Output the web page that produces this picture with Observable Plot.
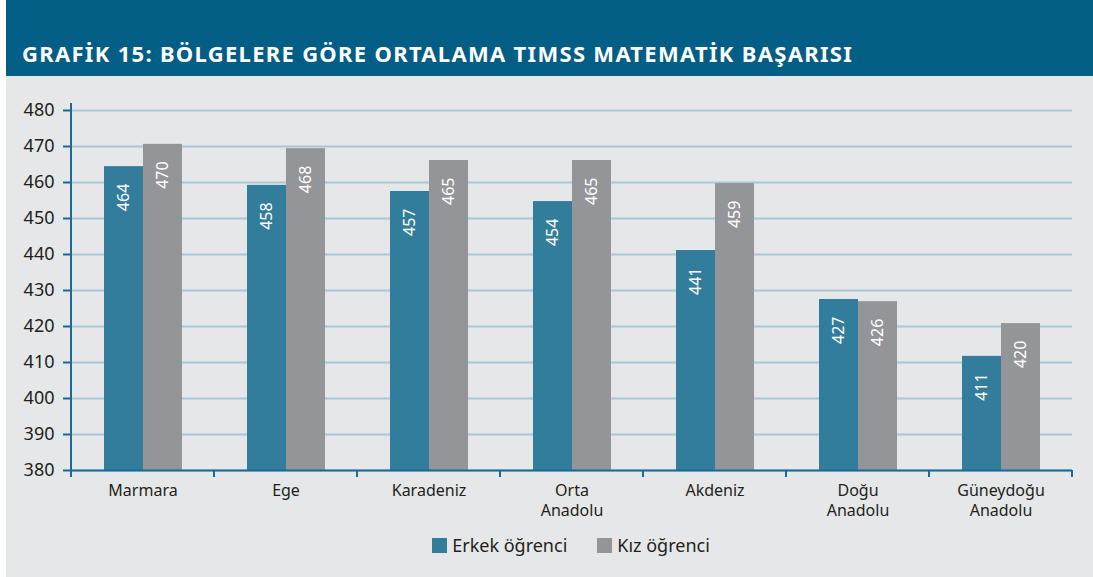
<!DOCTYPE html>
<html>
<head>
<meta charset="utf-8">
<script src="https://cdn.jsdelivr.net/npm/d3@7"></script>
<script src="https://cdn.jsdelivr.net/npm/@observablehq/plot@0.6"></script>
<style>
  html, body { margin: 0; padding: 0; background: #ffffff; }
  #wrap { position: absolute; left: 6px; top: 0; width: 1087px; height: 577px; background: #e6e7e8; font-family: "Noto Sans", sans-serif; }
  #header { height: 76px; background: #035e85; position: relative; }
  #title { position: absolute; left: 16px; top: 42px; line-height: 22px; color: #ffffff; font-family: "Noto Sans", sans-serif; font-weight: 700; font-size: 22px; letter-spacing: 1.3px; white-space: nowrap; }
  #chart svg { display: block; }
  #legend { margin-left: 64px; width: 1002px; display: flex; justify-content: center; gap: 30px; margin-top: 8px; font-size: 18px; color: #231f20; }
  .item { display: flex; align-items: center; }
  .sw { width: 15px; height: 15px; margin-right: 5px; }
</style>
</head>
<body>
<div id="wrap">
  <div id="header"><div id="title">GRAFİK 15: BÖLGELERE GÖRE ORTALAMA TIMSS MATEMATİK BAŞARISI</div></div>
  <div id="chart"></div>
  <div id="legend"></div>
</div>
<script>
const regions = ["Marmara", "Ege", "Karadeniz", "Orta\nAnadolu", "Akdeniz", "Doğu\nAnadolu", "Güneydoğu\nAnadolu"];
const groups = ["Erkek öğrenci", "Kız öğrenci"];
const erkekValues = [464.4, 459.2, 457.5, 454.7, 441.1, 427.5, 411.7];
const kizValues = [470.6, 469.4, 466.1, 466.1, 459.7, 426.9, 420.8];
const erkekLabels = [464, 458, 457, 454, 441, 427, 411];
const kizLabels = [470, 468, 465, 465, 459, 426, 420];
const yTicks = [380, 390, 400, 410, 420, 430, 440, 450, 460, 470, 480];
const colors = ["#327c9c", "#939598"];

const axisColor = "#1b6a93";
const gridColor = "#aac7d4";

const data = [];
regions.forEach((r, i) => {
  data.push({region: r, group: groups[0], value: erkekValues[i], label: erkekLabels[i]});
  data.push({region: r, group: groups[1], value: kizValues[i], label: kizLabels[i]});
});

const plot = Plot.plot({
  width: 1087,
  height: 449,
  marginLeft: 64,
  marginRight: 21,
  marginTop: 34,
  marginBottom: 55,
  style: {background: "transparent", fontFamily: "Noto Sans, sans-serif", color: "#231f20"},
  fx: {domain: regions, paddingInner: 0, paddingOuter: 0, label: null},
  x: {domain: groups, paddingInner: 0, paddingOuter: 0.83, axis: null},
  y: {domain: [380, 480], label: null},
  color: {domain: groups, range: colors},
  marks: [
    Plot.gridY(yTicks, {stroke: gridColor, strokeOpacity: 1, strokeWidth: 2}),
    Plot.barY(data, {fx: "region", x: "group", y1: 380, y2: "value", fill: "group"}),
    Plot.text(data, {fx: "region", x: "group", y: "value", text: "label", rotate: -90, textAnchor: "end", dy: 17, fill: "white", fontSize: 16}),
    Plot.ruleY([380], {stroke: axisColor, strokeWidth: 2}),
    Plot.axisY(yTicks, {tickSize: 8, tickPadding: 9, fontSize: 18, stroke: axisColor, strokeWidth: 2, fill: "#231f20", label: null}),
    Plot.axisFx({anchor: "bottom", tickSize: 0, tickPadding: 11, fontSize: 16, lineHeight: 1.25, fill: "#231f20", label: null})
  ]
});

// axis line and group boundary ticks, placed with the plot's own scales
const svg = d3.select(plot);
const ys = plot.scale("y");
const fxs = plot.scale("fx");
const x0 = fxs.apply(regions[0]);
const yTop = ys.apply(480);
const yBot = ys.apply(380);
svg.append("line").attr("x1", x0).attr("x2", x0).attr("y1", yTop - 7).attr("y2", yBot + 7)
  .attr("stroke", axisColor).attr("stroke-width", 2);
const bounds = regions.map(r => fxs.apply(r)).concat([fxs.apply(regions[regions.length - 1]) + fxs.bandwidth]);
bounds.forEach(b => {
  svg.append("line").attr("x1", b).attr("x2", b).attr("y1", yBot).attr("y2", yBot + 7)
    .attr("stroke", axisColor).attr("stroke-width", 2);
});

document.getElementById("chart").appendChild(plot);

const legend = document.getElementById("legend");
groups.forEach((g, i) => {
  const item = document.createElement("div");
  item.className = "item";
  const sw = document.createElement("div");
  sw.className = "sw";
  sw.style.background = colors[i];
  const t = document.createElement("span");
  t.textContent = g;
  item.appendChild(sw);
  item.appendChild(t);
  legend.appendChild(item);
});
</script>
</body>
</html>
